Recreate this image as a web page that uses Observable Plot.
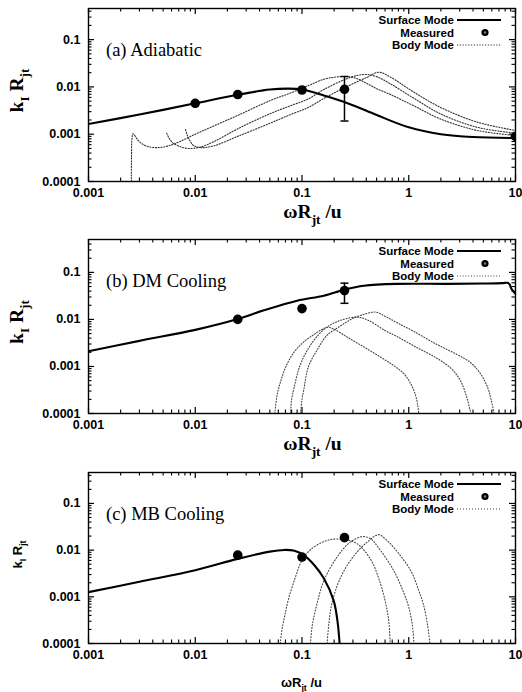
<!DOCTYPE html>
<html><head><meta charset="utf-8">
<script src="https://cdn.jsdelivr.net/npm/d3@7"></script>
<script src="https://cdn.jsdelivr.net/npm/@observablehq/plot@0.6"></script>
<style>
body{margin:0;background:#fff;}
#c{width:522px;}
#c svg{display:block;}
</style></head><body><div id="c"></div>
<script>
// ---------- tick labels & text ----------
const xTicks = [0.001, 0.01, 0.1, 1, 10];
const xTickLabels = ["0.001", "0.01", "0.1", "1", "10"];
const yTicks = [0.0001, 0.001, 0.01, 0.1];
const yTickLabels = ["0.0001", "0.001", "0.01", "0.1"];
const panelTitles = ["(a) Adiabatic", "(b) DM Cooling", "(c) MB Cooling"];
const legendLabels = ["Surface Mode", "Measured", "Body Mode"];
const xLabelParts = [["ω", 0], ["R", 0], ["jt", 1], [" /u", 0]];
const yLabelParts = [["k", 0], ["I", 1], [" R", 0], ["jt", 1]];

// ---------- panel (a) Adiabatic ----------
const surfaceA = [[0.001,0.00165],[0.003,0.0026],[0.01,0.0045],[0.025,0.0068],[0.05,0.0088],[0.075,0.0092],[0.1,0.0088],[0.16,0.0066],[0.25,0.0048],[0.47,0.0027],[1,0.0014],[2,0.001],[4,0.00087],[10,0.00083]];
const bodyA1 = [[0.00252,0.0001],[0.00253,0.0004],[0.00256,0.00085],[0.0026,0.00102],[0.0027,0.00095],[0.0029,0.00075],[0.0032,0.00062],[0.0037,0.00054],[0.0045,0.00052],[0.0055,0.00056],[0.007,0.00068],[0.01,0.001],[0.015,0.0015],[0.025,0.0025],[0.05,0.0051],[0.08,0.0076],[0.115,0.0107],[0.16,0.0145],[0.2,0.016],[0.255,0.0166],[0.32,0.0152],[0.4,0.012],[0.5,0.0092],[0.675,0.0069],[1.11,0.004],[1.98,0.0021],[4.38,0.0012],[10,0.00094]];
const bodyA2 = [[0.0054,0.00105],[0.0057,0.00082],[0.0062,0.00065],[0.007,0.00056],[0.0085,0.0005],[0.011,0.00053],[0.015,0.0007],[0.025,0.0013],[0.05,0.0027],[0.078,0.004],[0.115,0.0056],[0.16,0.0088],[0.255,0.0145],[0.33,0.0175],[0.407,0.0183],[0.5,0.0165],[0.675,0.0116],[1.11,0.0058],[1.98,0.0027],[4.38,0.0014],[10,0.00105]];
const bodyA3 = [[0.0081,0.00126],[0.0085,0.0009],[0.009,0.0007],[0.0096,0.00058],[0.0115,0.00052],[0.015,0.00057],[0.025,0.0009],[0.05,0.0017],[0.078,0.0026],[0.115,0.0037],[0.16,0.0057],[0.255,0.0098],[0.407,0.016],[0.524,0.0204],[0.675,0.0161],[1.11,0.0078],[1.98,0.0037],[4.38,0.0018],[10,0.0012]];
const measuredA = [[0.01,0.0045],[0.025,0.0069],[0.1,0.0086],[0.25,0.0089],[10,0.0009]];
const errorA = [[0.25,0.0019,0.0166]];

// ---------- panel (b) DM Cooling ----------
const surfaceB = [[0.001,0.0021],[0.003,0.0035],[0.01,0.006],[0.025,0.0102],[0.044,0.0156],[0.09,0.025],[0.16,0.032],[0.25,0.043],[0.38,0.052],[0.78,0.057],[2.3,0.057],[5,0.058],[7.5,0.059],[8.4,0.06],[8.8,0.056],[9.1,0.046],[9.5,0.04],[10,0.035]];
const bodyB1 = [[0.0556,0.0001],[0.0585,0.00025],[0.0627,0.00046],[0.07,0.00095],[0.084,0.002],[0.105,0.0034],[0.13,0.0048],[0.155,0.0062],[0.175,0.0068],[0.2,0.0062],[0.265,0.0042],[0.38,0.0026],[0.54,0.0016],[0.72,0.00105],[0.9,0.0007],[1.05,0.00042],[1.16,0.00024],[1.22,0.00014],[1.24,0.0001]];
const bodyB2 = [[0.078,0.0001],[0.08,0.0002],[0.084,0.00034],[0.095,0.001],[0.112,0.0022],[0.14,0.0045],[0.172,0.0069],[0.228,0.0095],[0.33,0.0112],[0.42,0.0095],[0.6,0.0058],[0.78,0.0043],[1.2,0.0025],[1.83,0.0015],[2.5,0.0009],[3.05,0.0005],[3.5,0.00022],[3.75,0.00012],[3.85,0.0001]];
const bodyB3 = [[0.097,0.0001],[0.1,0.0002],[0.104,0.00032],[0.115,0.001],[0.138,0.0022],[0.17,0.0045],[0.228,0.0072],[0.3,0.0105],[0.38,0.0128],[0.49,0.0143],[0.62,0.0112],[0.8,0.0082],[1.11,0.0056],[1.8,0.003],[2.83,0.0018],[3.8,0.0012],[4.7,0.0007],[5.5,0.00035],[5.9,0.0002],[6.3,0.0001]];
const measuredB = [[0.025,0.01],[0.1,0.017],[0.25,0.041]];
const errorB = [[0.25,0.022,0.059]];

// ---------- panel (c) MB Cooling ----------
const surfaceC = [[0.001,0.00126],[0.003,0.0021],[0.01,0.0037],[0.025,0.0065],[0.05,0.0093],[0.068,0.0101],[0.085,0.0097],[0.104,0.0078],[0.13,0.0048],[0.16,0.0025],[0.198,0.00083],[0.215,0.0003],[0.225,0.0001]];
const bodyC1 = [[0.0625,0.0001],[0.065,0.0002],[0.069,0.0004],[0.0748,0.0009],[0.0866,0.0026],[0.099,0.0058],[0.12,0.0102],[0.16,0.0152],[0.2,0.0172],[0.255,0.0168],[0.33,0.0136],[0.44,0.0063],[0.54,0.002],[0.61,0.0007],[0.65,0.0003],[0.67,0.0001]];
const bodyC2 = [[0.12,0.0001],[0.125,0.00025],[0.138,0.0007],[0.16,0.0022],[0.213,0.0071],[0.28,0.0145],[0.366,0.0195],[0.44,0.0175],[0.506,0.0123],[0.72,0.0037],[0.9,0.0012],[1.0,0.0006],[1.08,0.00025],[1.12,0.0001]];
const bodyC3 = [[0.172,0.0001],[0.178,0.00025],[0.19,0.0007],[0.228,0.0025],[0.3,0.0071],[0.407,0.0148],[0.524,0.0215],[0.6,0.0175],[0.72,0.0115],[1.04,0.0037],[1.25,0.0013],[1.37,0.0007],[1.5,0.00025],[1.58,0.0001]];
const measuredC = [[0.025,0.0078],[0.1,0.0071],[0.25,0.0185]];
const errorC = [];

// ---------- drawing ----------
const SANS = "'Liberation Sans', Arial, Helvetica, sans-serif";
const SERIF = "'Liberation Serif', 'Times New Roman', serif";

function minorTicks(lo, hi) {
  const out = [];
  for (let e = -5; e <= 2; e++) for (let m = 2; m <= 9; m++) {
    const v = m * Math.pow(10, e);
    if (v > lo * 1.0001 && v < hi) out.push(v);
  }
  return out;
}
const capSymbol = {draw(ctx, size) { const w = Math.sqrt(size / Math.PI); ctx.moveTo(-w, 0); ctx.lineTo(w, 0); }};

function richText(g, parts, size, anchor) {
  const t = g.append("text").attr("text-anchor", anchor || "middle");
  let shift = 0;
  for (const [s, sub] of parts) {
    const target = sub ? size * 0.32 : 0;
    const ts = t.append("tspan").text(s).attr("font-size", sub ? size * 0.68 : size);
    if (target !== shift) { ts.attr("dy", target - shift); shift = target; }
  }
  return t;
}

function panel(cfg) {
  const W = 522, ml = 88, mr = 7;
  const {height, mt, mb, yTop, surface, bodies, measured, errs, title, serifLabels, dash, dashColor} = cfg;
  const ph = height - mt - mb, pw = W - ml - mr;
  const xm = minorTicks(1e-3, 10), ym = minorTicks(1e-4, yTop);
  const P = d => d[0], Q = d => d[1];
  const marks = [
    Plot.axisX({ticks: xTicks, tickFormat: d => xTickLabels[xTicks.indexOf(d)], tickSize: 0, tickPadding: 7, label: null, fontSize: 12.5, fontWeight: "bold"}),
    Plot.axisY({ticks: yTicks, tickFormat: d => yTickLabels[yTicks.indexOf(d)], tickSize: 0, tickPadding: 8, label: null, fontSize: 12.5, fontWeight: "bold"}),
    Plot.tickX(xTicks, {x: d => d, insetTop: ph - 6, stroke: "black", strokeWidth: 1.2}),
    Plot.tickX(xTicks, {x: d => d, insetBottom: ph - 6, stroke: "black", strokeWidth: 1.2}),
    Plot.tickX(xm, {x: d => d, insetTop: ph - 3.5, stroke: "black", strokeWidth: 1.1}),
    Plot.tickX(xm, {x: d => d, insetBottom: ph - 3.5, stroke: "black", strokeWidth: 1.1}),
    Plot.tickY(yTicks, {y: d => d, insetRight: pw - 6, stroke: "black", strokeWidth: 1.2}),
    Plot.tickY(yTicks, {y: d => d, insetLeft: pw - 6, stroke: "black", strokeWidth: 1.2}),
    Plot.tickY(ym, {y: d => d, insetRight: pw - 3.5, stroke: "black", strokeWidth: 1.1}),
    Plot.tickY(ym, {y: d => d, insetLeft: pw - 3.5, stroke: "black", strokeWidth: 1.1}),
    ...bodies.map(b => Plot.line(b, {x: P, y: Q, curve: "catmull-rom", stroke: dashColor, strokeWidth: 1.1, strokeDasharray: dash, clip: true})),
    Plot.line(surface, {x: P, y: Q, curve: "catmull-rom", stroke: "black", strokeWidth: 2.1, clip: true}),
    Plot.ruleX(errs, {x: d => d[0], y1: d => d[1], y2: d => d[2], stroke: "black", strokeWidth: 1.5}),
    Plot.dot(errs, {x: d => d[0], y: d => d[1], symbol: capSymbol, r: 4, stroke: "black", strokeWidth: 1.5}),
    Plot.dot(errs, {x: d => d[0], y: d => d[2], symbol: capSymbol, r: 4, stroke: "black", strokeWidth: 1.5}),
    Plot.dot(measured, {x: P, y: Q, r: 4.8, fill: "black", stroke: "none", clip: true}),
    Plot.frame({stroke: "black", strokeWidth: 1.4})
  ];
  const svgNode = Plot.plot({
    width: W, height, marginLeft: ml, marginRight: mr, marginTop: mt, marginBottom: mb,
    style: {fontFamily: SANS, fontWeight: "bold", background: "white", color: "black", overflow: "visible"},
    x: {type: "log", domain: [1e-3, 10]},
    y: {type: "log", domain: [1e-4, yTop]},
    marks
  });
  const svg = d3.select(svgNode);
  const fr = W - mr, ft = mt, fb = height - mb, cx = ml + pw / 2, cy = mt + ph / 2;
  // panel title
  svg.append("text").attr("x", ml + 18).attr("y", ft + 48).attr("text-anchor", "start")
    .attr("font-family", SERIF).attr("font-weight", "normal").attr("font-size", 18.5).attr("fill", "black").text(title);
  // legend
  const lg = svg.append("g").attr("font-family", SANS).attr("font-weight", "bold").attr("font-size", 11.5).attr("fill", "black");
  lg.append("text").attr("x", fr - 61).attr("y", ft + 16).attr("text-anchor", "end").text(legendLabels[0]);
  lg.append("line").attr("x1", fr - 58).attr("x2", fr - 14).attr("y1", ft + 12).attr("y2", ft + 12).attr("stroke", "black").attr("stroke-width", 2);
  lg.append("text").attr("x", fr - 61).attr("y", ft + 28.5).attr("text-anchor", "end").text(legendLabels[1]);
  lg.append("circle").attr("cx", fr - 30).attr("cy", ft + 24.5).attr("r", 3.6).attr("fill", "black");
  lg.append("circle").attr("cx", fr - 30).attr("cy", ft + 24.5).attr("r", 1.3).attr("fill", "#777");
  lg.append("text").attr("x", fr - 61).attr("y", ft + 41).attr("text-anchor", "end").text(legendLabels[2]);
  lg.append("line").attr("x1", fr - 58).attr("x2", fr - 14).attr("y1", ft + 37).attr("y2", ft + 37).attr("stroke", dashColor).attr("stroke-width", 1.1).attr("stroke-dasharray", dash);
  // axis labels
  if (serifLabels) {
    const gx = svg.append("g").attr("font-family", SERIF).attr("font-weight", "bold").attr("fill", "black")
      .attr("transform", `translate(${cx + 11},${fb + 37})`);
    richText(gx, xLabelParts, 19.5, "middle");
    const gy = svg.append("g").attr("font-family", SERIF).attr("font-weight", "bold").attr("fill", "black")
      .attr("transform", `translate(23,${cy - 4}) rotate(-90)`);
    richText(gy, yLabelParts, 19.5, "middle");
  } else {
    const gx = svg.append("g").attr("font-family", SANS).attr("font-weight", "bold").attr("fill", "black")
      .attr("transform", `translate(${cx},${fb + 44})`);
    richText(gx, xLabelParts, 13, "middle");
    const gy = svg.append("g").attr("font-family", SANS).attr("font-weight", "bold").attr("fill", "black")
      .attr("transform", `translate(22,${cy - 3}) rotate(-90)`);
    richText(gy, yLabelParts, 13, "middle");
  }
  return svgNode;
}

const root = document.getElementById("c");
root.appendChild(panel({height: 231, mt: 8, mb: 50, yTop: 0.455, surface: surfaceA, bodies: [bodyA1, bodyA2, bodyA3], measured: measuredA, errs: errorA, title: panelTitles[0], serifLabels: true, dash: "1.2,1.6", dashColor: "#333"}));
root.appendChild(panel({height: 231, mt: 8, mb: 49, yTop: 0.5, surface: surfaceB, bodies: [bodyB1, bodyB2, bodyB3], measured: measuredB, errs: errorB, title: panelTitles[1], serifLabels: true, dash: "1,1.8", dashColor: "#444"}));
root.appendChild(panel({height: 230, mt: 10, mb: 49, yTop: 0.46, surface: surfaceC, bodies: [bodyC1, bodyC2, bodyC3], measured: measuredC, errs: errorC, title: panelTitles[2], serifLabels: false, dash: "1,2", dashColor: "#444"}));
</script>
</body></html>
